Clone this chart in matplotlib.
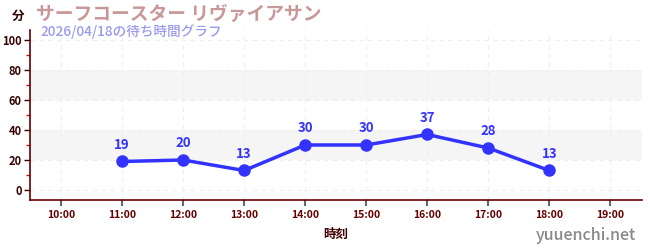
import matplotlib
matplotlib.use('Agg')
import matplotlib.pyplot as plt

plt.rcParams['font.family'] = ['Noto Sans CJK JP', 'DejaVu Sans']

# wait time data
hours = [11, 12, 13, 14, 15, 16, 17, 18]
waits = [19, 20, 13, 30, 30, 37, 28, 13]
x_ticks = [10, 11, 12, 13, 14, 15, 16, 17, 18, 19]
x_labels = ['10:00', '11:00', '12:00', '13:00', '14:00', '15:00', '16:00', '17:00', '18:00', '19:00']
y_ticks = [0, 20, 40, 60, 80, 100]
bands = [(20, 40), (60, 80)]

title = 'サーフコースター リヴァイアサン'
subtitle = '2026/04/18の待ち時間グラフ'

fig = plt.figure(figsize=(6.5, 2.5), dpi=100)
ax = fig.add_axes([30 / 650, 50 / 250, 612 / 650, 170 / 250])

for lo, hi in bands:
    ax.axhspan(lo, hi, color='#f5f5f5', zorder=0, lw=0)

ax.plot(hours, waits, color='#3333ff', lw=2.5, marker='o', ms=8, zorder=3)
for h, w in zip(hours, waits):
    ax.annotate(str(w), (h, w), xytext=(0, 7), textcoords='offset points',
                ha='center', va='bottom', color='#3333ff', fontsize=9.5, fontweight='bold')

ax.set_xlim(9.49, 19.52)
ax.set_ylim(-6.67, 106.67)
ax.set_xticks(x_ticks)
ax.set_xticklabels(x_labels)
ax.set_yticks(y_ticks)
ax.set_yticks([10, 30, 50, 70, 90], minor=True)

ax.grid(True, which='major', color='#eeeeee', ls=(0, (4, 4)), lw=0.8)
ax.set_axisbelow(True)

for s in ['top', 'right']:
    ax.spines[s].set_visible(False)
for s in ['left', 'bottom']:
    ax.spines[s].set_color('#660000')
    ax.spines[s].set_linewidth(1.2)

ax.tick_params(axis='y', which='major', colors='#330000', labelsize=8, length=4, width=1, pad=2)
ax.tick_params(axis='y', which='minor', colors='#dd0000', length=3, width=1)
ax.tick_params(axis='x', colors='#666666', labelcolor='#660000', labelsize=7.5, length=4, width=1.5, pad=3)
for lab in ax.get_xticklabels() + ax.get_yticklabels():
    lab.set_fontweight('bold')

ax.set_xlabel('時刻', fontsize=9, fontweight='bold', color='#440000', labelpad=6)

fig.text(12 / 650, 1 - 16 / 250, '分', fontsize=9, fontweight='bold', color='#330000', va='center')
fig.text(36 / 650, 1 - 14 / 250, title, fontsize=13.5, fontweight='bold', color='#c89898', va='center')
fig.text(40 / 650, 1 - 32 / 250, subtitle, fontsize=9.8, fontweight='medium', color='#9999ee', va='center')
fig.text(636 / 650, 1 - 235 / 250, 'yuuenchi.net', fontsize=11.5, fontweight='medium', color='#888888', ha='right', va='center')

fig.savefig('out.png', dpi=100)
